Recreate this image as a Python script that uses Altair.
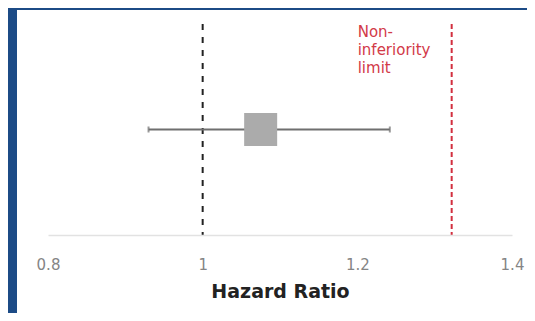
import altair as alt
import pandas as pd

# ---- data ----
study = ["Trial"]
hazard_ratio = [1.075]
ci_low = [0.93]
ci_high = [1.242]
reference_line = [1.0]
noninferiority_limit = [1.322]
axis_ticks = [0.8, 1.0, 1.2, 1.4]
annotation_lines = ["Non-", "inferiority", "limit"]

est = pd.DataFrame({"study": study, "hr": hazard_ratio, "low": ci_low, "high": ci_high})
ref = pd.DataFrame({"v": reference_line})
ni = pd.DataFrame({"v": noninferiority_limit, "label": ["\n".join(annotation_lines)]})
ends = pd.DataFrame({"study": study * 2, "v": ci_low + ci_high})
panel = pd.DataFrame({"k": [0]})

xscale = alt.Scale(domain=[0.8, 1.4], nice=False, zero=False)
yenc = alt.Y("study:N", axis=None, title=None)

# white panel inside the dark blue frame (decoration)
bg = alt.Chart(panel).mark_rect(fill="white", strokeWidth=0).encode(
    x=alt.value(-31), x2=alt.value(479), y=alt.value(-14), y2=alt.value(289)
)

ref_rule = alt.Chart(ref).mark_rule(color="#222222", strokeWidth=2, strokeDash=[6, 7]).encode(
    x=alt.X(
        "v:Q",
        scale=xscale,
        title="Hazard Ratio",
        axis=alt.Axis(
            values=axis_ticks,
            format="~g",
            grid=False,
            ticks=False,
            zindex=1,
            labelFlush=False,
            domainColor="#e2e2e2",
            domainWidth=1.5,
            labelFont="DejaVu Sans",
            labelFontSize=15,
            labelColor="#858585",
            labelPadding=22,
            titleFont="DejaVu Sans",
            titleFontSize=19,
            titleFontWeight="bold",
            titleColor="#222222",
            titlePadding=10,
        ),
    )
)

ni_rule = alt.Chart(ni).mark_rule(color="#d22f3f", strokeWidth=2, strokeDash=[5, 3]).encode(
    x=alt.X("v:Q", scale=xscale)
)

ni_text = alt.Chart(ni).mark_text(
    align="left", baseline="top", lineBreak="\n", dx=-94, dy=1, font="DejaVu Sans",
    fontSize=15, lineHeight=18, color="#d23a48"
).encode(x=alt.X("v:Q", scale=xscale), y=alt.value(0), text="label:N")

ci = alt.Chart(est).mark_rule(color="#6f6f6f", strokeWidth=2).encode(
    x=alt.X("low:Q", scale=xscale), x2="high:Q", y=yenc
)

caps = alt.Chart(ends).mark_tick(color="#6f6f6f", thickness=2, size=6, orient="vertical").encode(
    x=alt.X("v:Q", scale=xscale), y=yenc
)

square = alt.Chart(est).mark_square(size=1089, color="#ababab", opacity=1).encode(
    x=alt.X("hr:Q", scale=xscale), y=yenc
)

chart = (
    alt.layer(bg, ref_rule, ni_rule, ni_text, ci, caps, square)
    .properties(
        width=464,
        height=211,
        autosize=alt.AutoSizeParams(type="none"),
        padding={"left": 40, "top": 16, "right": 15, "bottom": 78},
        background="#1c4b86",
    )
    .configure_view(strokeWidth=0)
)

chart.save("out.html", embed_options={"renderer": "svg", "actions": False})
